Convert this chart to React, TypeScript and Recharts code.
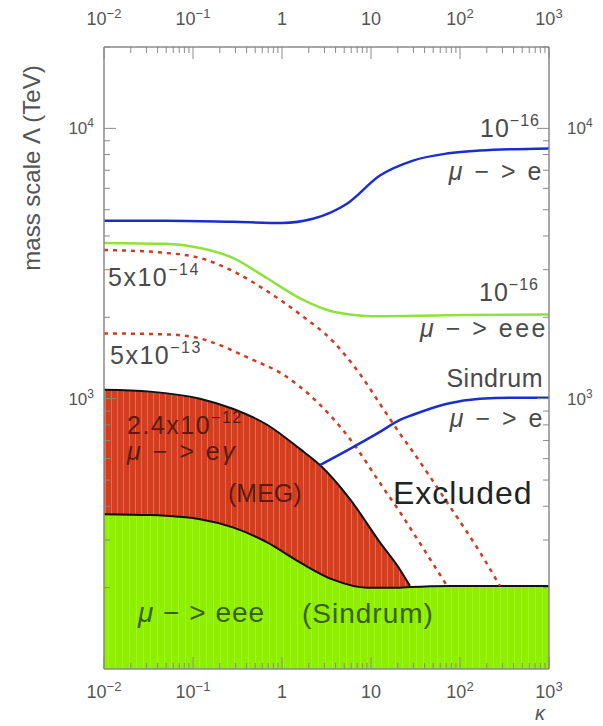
import React from 'react';
import { ComposedChart, Area, Line, XAxis, YAxis } from 'recharts';

// kappa values and mass scale Lambda (TeV)
const kMeg = [0.01, 0.033, 0.12, 0.28, 0.68, 1.59, 2.67, 5.8, 12.6, 21.2, 27.4];
const lambdaMeg = [1080, 1062, 1000, 918, 801, 652, 568, 425, 294, 233, 203];

const kSindrumEee = [0.01, 0.033, 0.12, 0.28, 0.68, 1.59, 3.74, 9.0, 21.2, 27.4, 77, 1000];
const lambdaSindrumEee = [374, 371, 358, 334, 294, 248, 214, 200, 200, 201, 203, 203];

const kFutureMuE = [0.01, 0.05, 0.28, 1, 2.23, 5.37, 12.6, 29.7, 71, 168, 1000];
const lambdaFutureMuE = [4550, 4550, 4510, 4470, 4630, 5260, 6690, 7600, 8070, 8280, 8430];

const kFutureEee = [0.01, 0.05, 0.12, 0.28, 0.68, 1.6, 3.7, 5.8, 9.8, 71, 1000];
const lambdaFutureEee = [3770, 3740, 3610, 3320, 2790, 2350, 2100, 2050, 2020, 2035, 2050];

const kMeg14 = [0.01, 0.051, 0.12, 0.28, 0.68, 1.59, 3.74, 7.58, 13.7, 21.2, 29.7, 71.5, 168, 281];
const lambdaMeg14 = [3550, 3459, 3315, 2966, 2500, 2053, 1629, 1228, 918, 741, 635, 414, 270, 203];

const kMeg13 = [0.01, 0.051, 0.12, 0.155, 0.436, 1.03, 2.47, 5.8, 13.3, 21.2, 29.7, 71.5];
const lambdaMeg13 = [1744, 1729, 1671, 1629, 1408, 1228, 974, 710, 475, 380, 320, 203];

const kSindrumMuE = [2.67, 5.8, 12.6, 21.2, 29.7, 71.5, 168, 394, 1000];
const lambdaSindrumMuE = [568, 652, 754, 835, 872, 958, 1000, 1009, 1009];

// axis ticks
const xMajor = [0.01, 0.1, 1, 10, 100, 1000];
const xBase = ['10', '10', '1', '10', '10', '10'];
const xExp = ['\u22122', '\u22121', '', '', '2', '3'];
const yMajor = [1000, 10000];
const yBase = ['10', '10'];
const yExp = ['3', '4'];

const minorOf = (majors: number[], last: number) => {
  const out: number[] = [];
  majors.forEach((m) => {
    for (let i = 2; i <= 9; i++) {
      const v = +(m * i).toPrecision(3);
      if (v < last) out.push(v);
    }
  });
  return out;
};
const xTicks = [...xMajor, ...minorOf([0.01, 0.1, 1, 10, 100], 1000)];
const yTicks = [...yMajor, ...minorOf([100, 1000, 10000], 20001)];

const pts = (k: number[], v: number[]) => k.map((x, i) => ({ k: x, v: v[i] }));

const FONT = '"Liberation Sans", Arial, sans-serif';
const AXIS = '#8a8a8a';
const LABEL = '#555';

const XTick = (props: any) => {
  const { x, y, payload, side } = props;
  const idx = xMajor.indexOf(payload.value);
  const major = idx >= 0;
  const dir = side === 'bottom' ? -1 : 1;
  return (
    <g>
      <line x1={x} x2={x} y1={y} y2={y + dir * (major ? 12 : 6)} stroke={AXIS} strokeWidth={1} />
      {major && (
        <text x={x} y={side === 'bottom' ? y + 29 : y - 22} textAnchor="middle" fontSize={18} fill={LABEL} fontFamily={FONT}>
          {xBase[idx]}
          {xExp[idx] && <tspan dy={-7} fontSize={13}>{xExp[idx]}</tspan>}
        </text>
      )}
    </g>
  );
};

const YTick = (props: any) => {
  const { x, y, payload, side } = props;
  const idx = yMajor.indexOf(payload.value);
  const major = idx >= 0;
  const dir = side === 'left' ? 1 : -1;
  return (
    <g>
      <line x1={x} x2={x + dir * (major ? 12 : 6)} y1={y} y2={y} stroke={AXIS} strokeWidth={1} />
      {major && (
        <text x={side === 'left' ? x - 10 : x + 18} y={y + 6} textAnchor={side === 'left' ? 'end' : 'start'} fontSize={17} fill={LABEL} fontFamily={FONT}>
          {yBase[idx]}
          <tspan dy={-7} fontSize={12}>{yExp[idx]}</tspan>
        </text>
      )}
    </g>
  );
};

const Mu = () => <tspan fontStyle="italic">μ</tspan>;
const Sup = ({ t }: { t: string }) => <tspan dy={-11} fontSize={16}>{t}</tspan>;

const App = () => {
  const W = 595;
  const H = 726;
  return (
    <div style={{ padding: '0 0 0 8px' }}>
      <style>{'body{margin:0}'}</style>
      <div style={{ position: 'relative', width: W, height: H }}>
        <ComposedChart width={W} height={H} margin={{ top: 8, right: 0, bottom: 0, left: 0 }}>
          <XAxis xAxisId="b" type="number" dataKey="k" scale="log" domain={[0.01, 1000]} allowDataOverflow
            ticks={xTicks} interval={0} tickSize={0} tickMargin={0} height={57}
            axisLine={{ stroke: AXIS, strokeWidth: 1.5 }} tickLine={false} tick={<XTick side="bottom" />} />
          <XAxis xAxisId="t" orientation="top" type="number" dataKey="k" scale="log" domain={[0.01, 1000]} allowDataOverflow
            ticks={xTicks} interval={0} tickSize={0} tickMargin={0} height={39}
            axisLine={{ stroke: AXIS, strokeWidth: 1.5 }} tickLine={false} tick={<XTick side="top" />} />
          <YAxis yAxisId="l" type="number" dataKey="v" scale="log" domain={[100, 20000]} allowDataOverflow
            ticks={yTicks} interval={0} tickSize={0} tickMargin={0} width={96}
            axisLine={{ stroke: AXIS, strokeWidth: 1.5 }} tickLine={false} tick={<YTick side="left" />} />
          <YAxis yAxisId="r" orientation="right" type="number" dataKey="v" scale="log" domain={[100, 20000]} allowDataOverflow
            ticks={yTicks} interval={0} tickSize={0} tickMargin={0} width={54}
            axisLine={{ stroke: AXIS, strokeWidth: 1.5 }} tickLine={false} tick={<YTick side="right" />} />

          <Area xAxisId="b" yAxisId="l" data={pts(kMeg, lambdaMeg)} dataKey="v" type="monotone" baseValue="dataMin"
            fill="url(#redStripes)" fillOpacity={1} stroke="#111" strokeWidth={2} isAnimationActive={false} dot={false} activeDot={false} />
          <Area xAxisId="b" yAxisId="l" data={pts(kSindrumEee, lambdaSindrumEee)} dataKey="v" type="monotone" baseValue="dataMin"
            fill="url(#greenStripes)" fillOpacity={1} stroke="#111" strokeWidth={2} isAnimationActive={false} dot={false} activeDot={false} />

          <Line xAxisId="b" yAxisId="l" data={pts(kFutureMuE, lambdaFutureMuE)} dataKey="v" type="monotone"
            stroke="#1a2ed0" strokeWidth={2.5} dot={false} activeDot={false} isAnimationActive={false} />
          <Line xAxisId="b" yAxisId="l" data={pts(kFutureEee, lambdaFutureEee)} dataKey="v" type="monotone"
            stroke="#8fe23c" strokeWidth={2.5} dot={false} activeDot={false} isAnimationActive={false} />
          <Line xAxisId="b" yAxisId="l" data={pts(kMeg14, lambdaMeg14)} dataKey="v" type="monotone"
            stroke="#d23a22" strokeWidth={2.5} strokeDasharray="4 5" dot={false} activeDot={false} isAnimationActive={false} />
          <Line xAxisId="b" yAxisId="l" data={pts(kMeg13, lambdaMeg13)} dataKey="v" type="monotone"
            stroke="#d23a22" strokeWidth={2.5} strokeDasharray="4 5" dot={false} activeDot={false} isAnimationActive={false} />
          <Line xAxisId="b" yAxisId="l" data={pts(kSindrumMuE, lambdaSindrumMuE)} dataKey="v" type="monotone"
            stroke="#1a2ed0" strokeWidth={2.5} dot={false} activeDot={false} isAnimationActive={false} />
        </ComposedChart>

        <svg width={W} height={718} style={{ position: 'absolute', left: 0, top: 8, pointerEvents: 'none' }}
          fontFamily={FONT} xmlSpace="preserve">
          <defs>
            <pattern id="redStripes" width="6" height="10" patternUnits="userSpaceOnUse">
              <rect width="6" height="10" fill="#d63c1e" />
              <rect x="1" width="1" height="10" fill="#ec8f78" opacity="0.55" />
            </pattern>
            <pattern id="greenStripes" width="7" height="10" patternUnits="userSpaceOnUse">
              <rect width="7" height="10" fill="#8ef000" />
              <rect x="2" width="1" height="10" fill="#a6f53a" opacity="0.6" />
            </pattern>
          </defs>

          <text transform="translate(32,160) rotate(-90)" textAnchor="middle" fontSize={24} fill={LABEL}>
            mass scale Λ (TeV)
          </text>
          <text x={527} y={712} fontSize={20} fontStyle="italic" fill={LABEL}>κ</text>

          <g fill="#4a4a4a" fontSize={25}>
            <text x={532} y={129} textAnchor="end" letterSpacing={1}>10<Sup t="−16" /></text>
            <text x={536} y={172} textAnchor="end" letterSpacing={2.5}><Mu /> − &gt; e</text>
            <text x={531} y={293} textAnchor="end" letterSpacing={1}>10<Sup t="−16" /></text>
            <text x={540} y={329} textAnchor="end" letterSpacing={2.5}><Mu /> − &gt; eee</text>
            <text x={100} y={278} letterSpacing={1.5}>5x10<Sup t="−14" /></text>
            <text x={102} y={356} letterSpacing={1.5}>5x10<Sup t="−13" /></text>
            <text x={535} y={379} textAnchor="end" letterSpacing={0.5}>Sindrum</text>
            <text x={537} y={419} textAnchor="end" letterSpacing={2.5}><Mu /> − &gt; e</text>
            <text x={385} y={496} fontSize={32} letterSpacing={1} fill="#222">Excluded</text>
          </g>
          <g fill="#5a1c10" fontSize={25}>
            <text x={119} y={426} letterSpacing={1.5}>2.4x10<Sup t="−12" /></text>
            <text x={119} y={452} letterSpacing={2.5}><Mu /> − &gt; e<tspan fontStyle="italic">γ</tspan></text>
            <text x={220} y={494}>(MEG)</text>
          </g>
          <g fill="#3a6010" fontSize={28} letterSpacing={1}>
            <text x={130} y={614}><Mu /> − &gt; eee</text>
            <text x={294} y={615}>(Sindrum)</text>
          </g>
        </svg>
      </div>
    </div>
  );
};

export default App;
